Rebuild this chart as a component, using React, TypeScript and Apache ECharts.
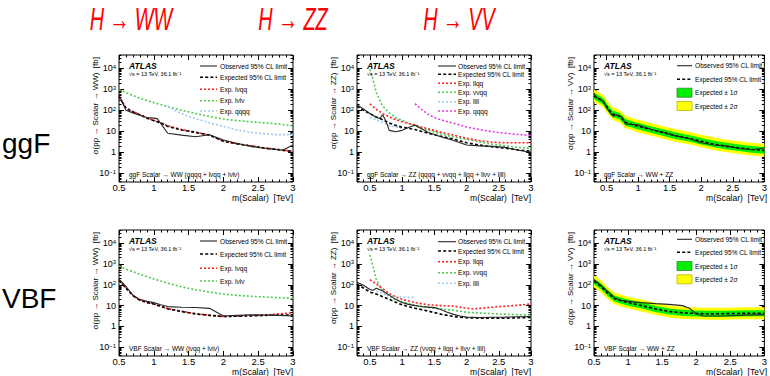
import React, { useEffect, useRef } from 'react';
import * as echarts from 'echarts';

type Pt = [number, number];

// ---------- ggF  Scalar -> WW ----------
const ggfWWObs: Pt[] = [[0.5, 540], [0.6, 100], [0.7, 75], [0.8, 58], [0.9, 45], [1.0, 42], [1.05, 40], [1.2, 8], [1.4, 6.5], [1.6, 5.5], [1.8, 6.8], [2.0, 3.8], [2.2, 2.6], [2.4, 1.9], [2.6, 1.5], [2.8, 1.3], [2.85, 1.25], [3.0, 2.2]];
const ggfWWExp: Pt[] = [[0.5, 450], [0.6, 125], [0.7, 85], [0.8, 60], [0.9, 42], [1.0, 32], [1.1, 25], [1.2, 17], [1.4, 11.5], [1.6, 8.8], [1.8, 6.5], [2.0, 3.3], [2.2, 2.5], [2.4, 1.95], [2.6, 1.55], [2.8, 1.3], [3.0, 1.07]];
const ggfWWLvqq: Pt[] = [[0.5, 470], [0.6, 130], [0.7, 88], [0.8, 62], [0.9, 44], [1.0, 33], [1.1, 26], [1.2, 18], [1.4, 12], [1.6, 9], [1.8, 6.6], [2.0, 3.4], [2.2, 2.55], [2.4, 2.0], [2.6, 1.6], [2.8, 1.35], [3.0, 1.1]];
const ggfWWLvlv: Pt[] = [[0.5, 940], [0.6, 700], [0.7, 500], [0.8, 375], [1.0, 230], [1.2, 150], [1.4, 100], [1.6, 70], [1.8, 50], [2.0, 38], [2.2, 32], [2.4, 28], [2.6, 25], [2.8, 22], [3.0, 18]];
const ggfWWQqqq: Pt[] = [[1.2, 160], [1.3, 100], [1.4, 70], [1.5, 50], [1.6, 40], [1.8, 25], [2.0, 17], [2.2, 11.5], [2.4, 8.8], [2.6, 7.5], [2.8, 6.8], [3.0, 7.2]];

// ---------- ggF  Scalar -> ZZ ----------
const ggfZZObs: Pt[] = [[0.3, 185], [0.4, 115], [0.5, 70], [0.6, 45], [0.65, 40], [0.7, 60], [0.75, 30], [0.8, 11], [0.9, 9.4], [1.0, 11], [1.1, 15], [1.2, 20], [1.25, 16], [1.4, 9], [1.6, 5.5], [1.8, 3.6], [2.0, 2.2], [2.2, 2.0], [2.4, 1.9], [2.6, 1.7], [2.8, 1.25], [3.0, 1.0]];
const ggfZZExp: Pt[] = [[0.3, 155], [0.4, 100], [0.5, 68], [0.6, 48], [0.7, 35], [0.8, 25], [0.9, 19], [1.0, 15.5], [1.2, 12], [1.4, 8], [1.6, 5.8], [1.8, 4.2], [2.0, 2.8], [2.2, 2.2], [2.4, 1.8], [2.6, 1.55], [2.8, 1.3], [3.0, 1.1]];
const ggfZZLlqq: Pt[] = [[0.5, 200], [0.6, 110], [0.7, 69], [0.8, 48], [0.9, 36], [1.0, 28], [1.2, 19.5], [1.4, 13], [1.6, 9], [1.8, 6.5], [2.0, 4.6], [2.2, 3.6], [2.4, 3.0], [2.6, 2.8], [2.8, 2.8], [3.0, 2.8]];
const ggfZZVvqq: Pt[] = [[0.5, 9000], [0.55, 2800], [0.6, 700], [0.65, 320], [0.7, 155], [0.8, 75], [0.9, 45], [1.0, 33], [1.2, 18], [1.4, 11.5], [1.6, 7.5], [1.8, 5.3], [2.0, 4.1], [2.2, 3.1], [2.4, 2.4], [2.6, 2.0], [2.8, 1.7], [3.0, 1.5]];
const ggfZZLlll: Pt[] = [[0.5, 45], [0.6, 34], [0.7, 26], [0.8, 19], [0.9, 16], [1.0, 14]];
const ggfZZQqqq: Pt[] = [[1.2, 205], [1.3, 110], [1.4, 65], [1.5, 45], [1.6, 35], [1.8, 24], [2.0, 16], [2.2, 12], [2.4, 9.5], [2.6, 8], [2.8, 7], [3.0, 6.3]];

// ---------- ggF  Scalar -> VV (combined) ----------
const ggfVVMass = [0.3, 0.35, 0.4, 0.45, 0.5, 0.55, 0.6, 0.65, 0.7, 0.75, 0.8, 0.9, 1.0, 1.2, 1.4, 1.6, 1.8, 2.0, 2.2, 2.4, 2.6, 2.8, 3.0];
const ggfVVExp = [480, 380, 320, 250, 150, 95, 65, 58, 52, 38, 26, 21, 17, 12, 8.5, 6, 4.6, 3.3, 2.4, 1.9, 1.6, 1.35, 1.2];
const ggfVVObs = [650, 380, 340, 260, 130, 80, 52, 60, 55, 45, 22, 21, 20, 12.5, 9, 6, 4.5, 2.8, 2.2, 2.0, 1.5, 1.3, 1.6];
const ggfVVUp1 = [700, 550, 460, 360, 215, 137, 94, 84, 75, 55, 38, 30, 25, 17.5, 12.3, 8.7, 6.7, 4.8, 3.5, 2.8, 2.3, 1.95, 1.75];
const ggfVVLo1 = [340, 270, 230, 180, 105, 67, 46, 41, 37, 27, 18, 15, 12, 8.5, 6, 4.2, 3.2, 2.3, 1.7, 1.35, 1.13, 0.95, 0.85];
const ggfVVUp2 = [1000, 780, 660, 520, 310, 195, 135, 120, 107, 78, 54, 43, 35, 25, 17.5, 12.4, 9.5, 6.8, 5, 3.9, 3.3, 2.8, 2.5];
const ggfVVLo2 = [250, 200, 170, 130, 78, 50, 34, 30, 27, 20, 13.5, 11, 8.8, 6.2, 4.4, 3.1, 2.4, 1.7, 1.25, 1.0, 0.83, 0.7, 0.62];

// ---------- VBF  Scalar -> WW ----------
const vbfWWObs: Pt[] = [[0.5, 185], [0.6, 83], [0.7, 32], [0.8, 20], [0.9, 16], [1.0, 14], [1.1, 11], [1.2, 9], [1.4, 8.4], [1.6, 8.1], [1.8, 7.4], [2.0, 3.2], [2.2, 3.4], [2.4, 3.6], [2.6, 3.5], [2.8, 3.4], [3.0, 3.2]];
const vbfWWExp: Pt[] = [[0.5, 160], [0.6, 69], [0.7, 30], [0.8, 18], [0.9, 14], [1.0, 12], [1.2, 7], [1.4, 5.2], [1.6, 4], [1.8, 3.4], [2.0, 3.0], [2.2, 3.1], [2.4, 3.2], [2.6, 3.4], [2.8, 3.5], [3.0, 3.6]];
const vbfWWLvqq: Pt[] = [[0.5, 165], [0.6, 72], [0.7, 31], [0.8, 18.5], [0.9, 14.5], [1.0, 12.3], [1.2, 7.2], [1.4, 5.4], [1.6, 4.1], [1.8, 3.5], [2.0, 3.0], [2.2, 3.2], [2.4, 3.4], [2.6, 3.6], [2.8, 4.0], [3.0, 4.6]];
const vbfWWLvlv: Pt[] = [[0.5, 810], [0.6, 560], [0.7, 430], [0.8, 320], [0.9, 250], [1.0, 190], [1.2, 120], [1.4, 80], [1.6, 58], [1.8, 45], [2.0, 36], [2.2, 31], [2.4, 28], [2.6, 26], [2.8, 24], [3.0, 22]];

// ---------- VBF  Scalar -> ZZ ----------
const vbfZZObs: Pt[] = [[0.3, 133], [0.4, 95], [0.5, 60], [0.55, 55], [0.6, 69], [0.7, 50], [0.8, 32], [0.9, 20], [1.0, 14], [1.1, 11.5], [1.2, 10], [1.3, 9], [1.4, 8.5], [1.5, 8], [1.6, 6.5], [1.7, 4.8], [1.8, 3.8], [1.9, 3.2], [2.0, 2.8], [2.2, 2.7], [2.4, 2.75], [2.6, 2.8], [2.8, 2.9], [3.0, 3.0]];
const vbfZZExp: Pt[] = [[0.3, 110], [0.4, 70], [0.5, 45], [0.6, 36], [0.7, 27], [0.8, 20], [0.9, 14.5], [1.0, 11], [1.1, 9], [1.2, 7.5], [1.4, 5.5], [1.6, 3.9], [1.8, 3.0], [2.0, 2.6], [2.2, 2.5], [2.4, 2.5], [2.6, 2.5], [2.8, 2.6], [3.0, 2.7]];
const vbfZZLlqq: Pt[] = [[0.5, 175], [0.6, 110], [0.7, 65], [0.8, 38], [0.9, 26], [1.0, 20], [1.2, 14], [1.4, 11], [1.6, 10], [1.8, 9.5], [2.0, 7.5], [2.1, 6.9], [2.4, 8.4], [2.7, 9.8], [3.0, 12]];
const vbfZZVvqq: Pt[] = [[0.5, 2750], [0.55, 760], [0.6, 175], [0.7, 48], [0.8, 28], [0.9, 19], [1.0, 15], [1.2, 10.5], [1.4, 8.2], [1.6, 7], [1.8, 6], [2.0, 4.8], [2.2, 4.4], [2.4, 4.1], [2.6, 3.9], [2.8, 3.7], [3.0, 3.5]];
const vbfZZLlll: Pt[] = [[0.6, 50], [0.7, 38], [0.8, 30], [0.9, 27], [1.0, 26], [1.1, 25], [1.2, 25]];

// ---------- VBF  Scalar -> VV (combined) ----------
const vbfVVMass = [0.5, 0.6, 0.7, 0.8, 0.9, 1.0, 1.2, 1.4, 1.6, 1.8, 2.0, 2.2, 2.4, 2.6, 2.8, 3.0];
const vbfVVExp = [145, 85, 40, 22, 17, 14, 10, 7, 5.2, 4.5, 4.2, 4.0, 4.1, 4.2, 4.3, 4.3];
const vbfVVUp1 = [200, 118, 56, 31, 24, 19.5, 14, 9.8, 7.3, 6.3, 5.9, 5.6, 5.7, 5.9, 6.0, 6.0];
const vbfVVLo1 = [105, 61, 29, 16, 12.2, 10, 7.2, 5, 3.7, 3.2, 3.0, 2.9, 2.95, 3.0, 3.1, 3.1];
const vbfVVUp2 = [280, 165, 78, 43, 33, 27, 19.5, 13.7, 10.2, 8.8, 8.2, 7.8, 8.0, 8.2, 8.4, 8.4];
const vbfVVLo2 = [75, 44, 21, 11.5, 8.8, 7.3, 5.2, 3.6, 2.7, 2.3, 2.2, 2.1, 2.1, 2.2, 2.2, 2.2];
const vbfVVObs: Pt[] = [[0.5, 175], [0.6, 95], [0.7, 48], [0.8, 24], [0.9, 18], [1.0, 16], [1.2, 14], [1.4, 12.5], [1.6, 11.5], [1.8, 10], [1.9, 7.5], [2.0, 4], [2.1, 3.2], [2.4, 3.2], [2.7, 3.5], [3.0, 3.7]];

// ---------- axes ----------
const X_MAJOR = [0.5, 1, 1.5, 2, 2.5, 3];
const Y_MAJOR = [0.1, 1, 10, 100, 1000, 10000];
const Y_MIN = 0.038;
const Y_MAX = 43000;

const colTitles = ['H → WW', 'H → ZZ', 'H → VV'];
const rowTitles = ['ggF', 'VBF'];

const FONT = '"Liberation Sans", Arial, Helvetica, sans-serif';

type Sty = { color: string; width: number; dash: number[] | 'solid' };
const S: Record<string, Sty> = {
  obs: { color: '#262626', width: 1.1, dash: 'solid' },
  exp: { color: '#000000', width: 1.6, dash: [3, 2.2] },
  red: { color: '#ff1f1f', width: 1.6, dash: [2, 2] },
  green: { color: '#4fcc4f', width: 1.6, dash: [2, 2] },
  blue: { color: '#9ccaf7', width: 1.6, dash: [2, 2] },
  magenta: { color: '#e23be6', width: 1.6, dash: [2, 2] },
};

type SeriesDef = { name: string; data: Pt[]; sty: string; z: number };
type LegendDef = { label: string; sty?: string; box?: string; border?: string };
type Panel = {
  left: number; top: number; width: number; height: number;
  xMin: number; xMax: number;
  yTitle: string; caption: string;
  series: SeriesDef[];
  band?: { mass: number[]; up1: number[]; lo1: number[]; up2: number[]; lo2: number[] };
  legend: LegendDef[]; rows: number[]; lx1: number; lx2: number; tx: number;
};

const OBS = 'Observed 95% CL limit';
const EXP = 'Expected 95% CL limit';
const toPts = (m: number[], v: number[]): Pt[] => m.map((x, i) => [x, v[i]]);

const panels: Panel[] = [
  {
    left: 119, top: 55, width: 174, height: 127, xMin: 0.5, xMax: 3,
    yTitle: 'σ(pp → Scalar → WW)  [fb]', caption: 'ggF Scalar → WW (qqqq + lνqq + lνlν)',
    series: [
      { name: 'Exp. lνlν', data: ggfWWLvlv, sty: 'green', z: 3 },
      { name: 'Exp. qqqq', data: ggfWWQqqq, sty: 'blue', z: 3 },
      { name: 'Exp. lνqq', data: ggfWWLvqq, sty: 'red', z: 3 },
      { name: EXP, data: ggfWWExp, sty: 'exp', z: 4 },
      { name: OBS, data: ggfWWObs, sty: 'obs', z: 5 },
    ],
    legend: [{ label: OBS, sty: 'obs' }, { label: EXP, sty: 'exp' }, { label: 'Exp. lνqq', sty: 'red' }, { label: 'Exp. lνlν', sty: 'green' }, { label: 'Exp. qqqq', sty: 'blue' }],
    rows: [11, 22.3, 34.3, 45.7, 56], lx1: 81, lx2: 98, tx: 101,
  },
  {
    left: 357, top: 55, width: 174, height: 127, xMin: 0.3, xMax: 3,
    yTitle: 'σ(pp → Scalar → ZZ)  [fb]', caption: 'ggF Scalar → ZZ (qqqq + ννqq + llqq + llνν + llll)',
    series: [
      { name: 'Exp. ννqq', data: ggfZZVvqq, sty: 'green', z: 3 },
      { name: 'Exp. qqqq', data: ggfZZQqqq, sty: 'magenta', z: 3 },
      { name: 'Exp. llqq', data: ggfZZLlqq, sty: 'red', z: 3 },
      { name: 'Exp. llll', data: ggfZZLlll, sty: 'blue', z: 3 },
      { name: EXP, data: ggfZZExp, sty: 'exp', z: 4 },
      { name: OBS, data: ggfZZObs, sty: 'obs', z: 5 },
    ],
    legend: [{ label: OBS, sty: 'obs' }, { label: EXP, sty: 'exp' }, { label: 'Exp. llqq', sty: 'red' }, { label: 'Exp. ννqq', sty: 'green' }, { label: 'Exp. llll', sty: 'blue' }, { label: 'Exp. qqqq', sty: 'magenta' }],
    rows: [11, 19.3, 28.3, 37.3, 46.7, 56], lx1: 81, lx2: 99, tx: 101,
  },
  {
    left: 594, top: 55, width: 173, height: 127, xMin: 0.3, xMax: 3,
    yTitle: 'σ(pp → Scalar → VV)  [fb]', caption: 'ggF Scalar → WW + ZZ',
    band: { mass: ggfVVMass, up1: ggfVVUp1, lo1: ggfVVLo1, up2: ggfVVUp2, lo2: ggfVVLo2 },
    series: [
      { name: EXP, data: toPts(ggfVVMass, ggfVVExp), sty: 'exp', z: 4 },
      { name: OBS, data: toPts(ggfVVMass, ggfVVObs), sty: 'obs', z: 5 },
    ],
    legend: [{ label: OBS, sty: 'obs' }, { label: EXP, sty: 'exp' }, { label: 'Expected ± 1σ', box: '#00f000', border: '#2e8b2e' }, { label: 'Expected ± 2σ', box: '#ffff00', border: '#b8b800' }],
    rows: [10.7, 24.3, 37.7, 51], lx1: 83, lx2: 98, tx: 101,
  },
  {
    left: 119, top: 230, width: 174, height: 126, xMin: 0.5, xMax: 3,
    yTitle: 'σ(pp → Scalar → WW)  [fb]', caption: 'VBF Scalar → WW (lνqq + lνlν)',
    series: [
      { name: 'Exp. lνlν', data: vbfWWLvlv, sty: 'green', z: 3 },
      { name: 'Exp. lνqq', data: vbfWWLvqq, sty: 'red', z: 3 },
      { name: EXP, data: vbfWWExp, sty: 'exp', z: 4 },
      { name: OBS, data: vbfWWObs, sty: 'obs', z: 5 },
    ],
    legend: [{ label: OBS, sty: 'obs' }, { label: EXP, sty: 'exp' }, { label: 'Exp. lνqq', sty: 'red' }, { label: 'Exp. lνlν', sty: 'green' }],
    rows: [11, 24, 38.3, 51], lx1: 81, lx2: 98, tx: 101,
  },
  {
    left: 357, top: 230, width: 174, height: 126, xMin: 0.3, xMax: 3,
    yTitle: 'σ(pp → Scalar → ZZ)  [fb]', caption: 'VBF Scalar → ZZ (ννqq + llqq + llνν + llll)',
    series: [
      { name: 'Exp. ννqq', data: vbfZZVvqq, sty: 'green', z: 3 },
      { name: 'Exp. llqq', data: vbfZZLlqq, sty: 'red', z: 3 },
      { name: 'Exp. llll', data: vbfZZLlll, sty: 'blue', z: 3 },
      { name: EXP, data: vbfZZExp, sty: 'exp', z: 4 },
      { name: OBS, data: vbfZZObs, sty: 'obs', z: 5 },
    ],
    legend: [{ label: OBS, sty: 'obs' }, { label: EXP, sty: 'exp' }, { label: 'Exp. llqq', sty: 'red' }, { label: 'Exp. ννqq', sty: 'green' }, { label: 'Exp. llll', sty: 'blue' }],
    rows: [11.7, 21, 31.7, 42.7, 53.3], lx1: 81, lx2: 99, tx: 101,
  },
  {
    left: 594, top: 230, width: 173, height: 126, xMin: 0.5, xMax: 3,
    yTitle: 'σ(pp → Scalar → VV)  [fb]', caption: 'VBF Scalar → WW + ZZ',
    band: { mass: vbfVVMass, up1: vbfVVUp1, lo1: vbfVVLo1, up2: vbfVVUp2, lo2: vbfVVLo2 },
    series: [
      { name: EXP, data: toPts(vbfVVMass, vbfVVExp), sty: 'exp', z: 4 },
      { name: OBS, data: vbfVVObs, sty: 'obs', z: 5 },
    ],
    legend: [{ label: OBS, sty: 'obs' }, { label: EXP, sty: 'exp' }, { label: 'Expected ± 1σ', box: '#00f000', border: '#2e8b2e' }, { label: 'Expected ± 2σ', box: '#ffff00', border: '#b8b800' }],
    rows: [9.3, 22.3, 36, 49.3], lx1: 83, lx2: 98, tx: 101,
  },
];

const xMinorFor = (lo: number, hi: number) => {
  const out: number[] = [];
  for (let i = Math.round(lo * 10); i <= Math.round(hi * 10); i++) {
    const v = i / 10;
    if (!X_MAJOR.includes(v)) out.push(v);
  }
  return out;
};
const yMinor = (() => {
  const out: number[] = [];
  for (let e = -2; e <= 4; e++) {
    for (let k = 2; k <= 9; k++) {
      const v = Number((k * Math.pow(10, e)).toPrecision(6));
      if (v > Y_MIN && v < Y_MAX) out.push(v);
    }
  }
  return out;
})();

const yFmt = (v: number) => {
  const e = Math.round(Math.log10(v));
  if (e === 0) return '1';
  if (e === 1) return '10';
  return `10{s|${e < 0 ? '−' + -e : e}}`;
};

function txt(x: number, y: number, text: string, o: any = {}) {
  return {
    type: 'text', x, y, silent: true,
    rotation: o.rotation || 0, scaleX: o.scaleX || 1,
    z: 100,
    style: {
      text, x: 0, y: 0,
      fill: o.fill || '#000',
      fontSize: o.size || 7,
      fontFamily: o.family || FONT,
      fontStyle: o.italic ? 'italic' : 'normal',
      fontWeight: o.bold ? 'bold' : 'normal',
      textAlign: o.align || 'left', align: o.align || 'left',
      textVerticalAlign: 'middle', verticalAlign: 'middle',
    },
  };
}

function buildOption() {
  const grid: any[] = [];
  const xAxis: any[] = [];
  const yAxis: any[] = [];
  const series: any[] = [];
  const graphic: any[] = [];

  panels.forEach((p, i) => {
    grid.push({ left: p.left, top: p.top, width: p.width, height: p.height, show: true, borderColor: '#000', borderWidth: 1, backgroundColor: 'transparent' });
    const xMinor = xMinorFor(p.xMin, p.xMax);
    const xBase = { gridIndex: i, type: 'value', min: p.xMin, max: p.xMax, splitLine: { show: false }, axisLine: { show: false, onZero: false } };
    const xMaj = X_MAJOR.filter((v) => v >= p.xMin && v <= p.xMax);
    xAxis.push({ ...xBase, position: 'bottom', axisTick: { inside: true, length: 5, customValues: xMaj, lineStyle: { color: '#000' } }, axisLabel: { customValues: xMaj, fontSize: 9.5, fontFamily: FONT, color: '#000', margin: 0, formatter: (v: number) => String(v) } });
    xAxis.push({ ...xBase, position: 'bottom', axisTick: { inside: true, length: 2.5, customValues: xMinor, lineStyle: { color: '#000' } }, axisLabel: { show: false } });
    xAxis.push({ ...xBase, position: 'top', axisTick: { inside: true, length: 5, customValues: xMaj, lineStyle: { color: '#000' } }, axisLabel: { show: false } });
    xAxis.push({ ...xBase, position: 'top', axisTick: { inside: true, length: 2.5, customValues: xMinor, lineStyle: { color: '#000' } }, axisLabel: { show: false } });

    const yBase = { gridIndex: i, type: 'log', logBase: 10, min: Y_MIN, max: Y_MAX, splitLine: { show: false }, axisLine: { show: false, onZero: false } };
    yAxis.push({
      ...yBase, position: 'left',
      axisTick: { inside: true, length: 5, customValues: Y_MAJOR, lineStyle: { color: '#000' } },
      axisLabel: {
        customValues: Y_MAJOR, fontSize: 9, fontFamily: FONT, color: '#000', margin: 3, formatter: yFmt,
        rich: { s: { fontSize: 6, fontFamily: FONT, color: '#000', verticalAlign: 'top', lineHeight: 7, padding: [0, 0, 5, 0] } },
      },
    });
    yAxis.push({ ...yBase, position: 'left', axisTick: { inside: true, length: 2.5, customValues: yMinor, lineStyle: { color: '#000' } }, axisLabel: { show: false } });
    yAxis.push({ ...yBase, position: 'right', axisTick: { inside: true, length: 5, customValues: Y_MAJOR, lineStyle: { color: '#000' } }, axisLabel: { show: false } });
    yAxis.push({ ...yBase, position: 'right', axisTick: { inside: true, length: 2.5, customValues: yMinor, lineStyle: { color: '#000' } }, axisLabel: { show: false } });

    const xi = i * 4;
    const yi = i * 4;
    if (p.band) {
      const b = p.band;
      const layers: [number[], number[], string, string][] = [
        [b.up2, b.lo2, '#ffff00', 'Expected ± 2σ'],
        [b.up1, b.lo1, '#00f000', 'Expected ± 1σ'],
      ];
      layers.forEach(([up, lo, fill, name], k) => {
        series.push({
          type: 'custom', name, xAxisIndex: xi, yAxisIndex: yi, clip: true, silent: true, z: 1 + k,
          data: [[b.mass[0], up[0]]],
          renderItem: (_params: any, api: any) => {
            const pts: number[][] = [];
            for (let j = 0; j < b.mass.length; j++) pts.push(api.coord([b.mass[j], up[j]]));
            for (let j = b.mass.length - 1; j >= 0; j--) pts.push(api.coord([b.mass[j], lo[j]]));
            return { type: 'polygon', shape: { points: pts }, style: { fill, stroke: null } };
          },
        });
      });
    }
    p.series.forEach((s) => {
      const st = S[s.sty];
      series.push({
        type: 'line', name: s.name, xAxisIndex: xi, yAxisIndex: yi, data: s.data,
        showSymbol: false, symbol: 'none', silent: true, z: s.z, clip: true,
        lineStyle: { color: st.color, width: st.width, type: st.dash },
      });
    });

    // texts
    const L = p.left, T = p.top;
    graphic.push(txt(L + 10, T + 11, 'ATLAS', { size: 8.5, bold: true, italic: true }));
    graphic.push(txt(L + 10, T + 19, '√s = 13 TeV, 36.1 fb⁻¹', { size: 5.5 }));
    graphic.push(txt(L + 10, T + p.height - 8, p.caption, { size: 6.5 }));
    graphic.push(txt(L - 24, T + 2, p.yTitle, { size: 8, rotation: Math.PI / 2, align: 'right' }));
    graphic.push(txt(L + p.width, T + p.height + 16, 'm(Scalar)  [TeV]', { size: 8.5, align: 'right' }));
    p.legend.forEach((e, k) => {
      const y = T + p.rows[k];
      if (e.box) {
        graphic.push({ type: 'rect', silent: true, z: 100, shape: { x: L + p.lx1, y: y - 4.5, width: p.lx2 - p.lx1, height: 9 }, style: { fill: e.box, stroke: e.border, lineWidth: 0.8 } });
      } else if (e.sty) {
        const st = S[e.sty];
        graphic.push({ type: 'line', silent: true, z: 100, shape: { x1: L + p.lx1, y1: y, x2: L + p.lx2, y2: y }, style: { stroke: st.color, lineWidth: st.width, lineDash: st.dash === 'solid' ? null : st.dash } });
      }
      graphic.push(txt(L + p.tx, y, e.label, { size: 6.6 }));
    });
  });

  const titleX = [131, 293, 459];
  colTitles.forEach((t, k) => graphic.push(txt(titleX[k], 19, t, { size: 31, italic: true, fill: '#ff0000', align: 'center', scaleX: 0.64 })));
  const rowY = [143, 298];
  rowTitles.forEach((t, k) => graphic.push(txt(2, rowY[k], t, { size: 28 })));

  return { animation: false, backgroundColor: '#ffffff', grid, xAxis, yAxis, series, graphic };
}

export default function App() {
  const ref = useRef<HTMLDivElement>(null);
  useEffect(() => {
    if (!ref.current) return;
    const chart = echarts.init(ref.current, undefined, { renderer: 'svg' });
    chart.setOption(buildOption() as any);
    return () => chart.dispose();
  }, []);
  return <div ref={ref} style={{ position: 'fixed', left: 0, top: 0, width: 770, height: 376, background: '#fff' }} />;
}
